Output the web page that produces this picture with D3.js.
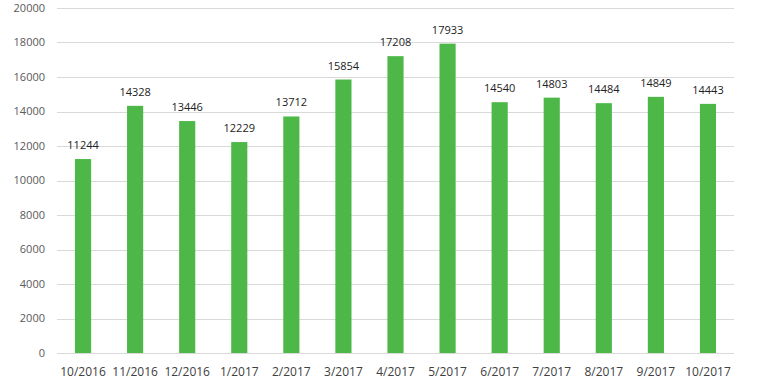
<!DOCTYPE html>
<html>
<head>
<meta charset="utf-8">
<script src="https://cdn.jsdelivr.net/npm/d3@7"></script>
<style>
  body { margin: 0; background: #fff; }
  text { font-family: "Open Sans", "DejaVu Sans", sans-serif; }
</style>
</head>
<body>
<svg id="chart" width="766" height="383"></svg>
<script>
var months = ["10/2016", "11/2016", "12/2016", "1/2017", "2/2017", "3/2017", "4/2017",
              "5/2017", "6/2017", "7/2017", "8/2017", "9/2017", "10/2017"];
var counts = [11244, 14328, 13446, 12229, 13712, 15854, 17208, 17933, 14540, 14803, 14484, 14849, 14443];
var yTicks = [0, 2000, 4000, 6000, 8000, 10000, 12000, 14000, 16000, 18000, 20000];

var svg = d3.select("#chart");
var plotLeft = 57, plotRight = 734, plotTop = 8, plotBottom = 353;

var x = d3.scaleBand()
    .domain(months)
    .range([plotLeft, plotRight])
    .paddingInner(0.69)
    .paddingOuter(0.345);

var y = d3.scaleLinear()
    .domain([0, 20000])
    .range([plotBottom, plotTop]);

// gridlines
svg.append("g")
  .selectAll("line")
  .data(yTicks)
  .join("line")
    .attr("x1", plotLeft)
    .attr("x2", plotRight)
    .attr("y1", function(d) { return Math.round(y(d)) + 0.5; })
    .attr("y2", function(d) { return Math.round(y(d)) + 0.5; })
    .attr("stroke", "#d9d9d9")
    .attr("stroke-width", 1);

// y labels
svg.append("g")
  .selectAll("text")
  .data(yTicks)
  .join("text")
    .attr("x", 45)
    .attr("y", function(d) { return y(d); })
    .attr("dy", "0.35em")
    .attr("text-anchor", "end")
    .attr("font-size", 11)
    .attr("fill", "#595959")
    .text(function(d) { return d; });

// bars
svg.append("g")
  .selectAll("rect")
  .data(counts)
  .join("rect")
    .attr("x", function(d, i) { return x(months[i]); })
    .attr("y", function(d) { return y(d); })
    .attr("width", x.bandwidth())
    .attr("height", function(d) { return y(0) - y(d); })
    .attr("fill", "#4db848");

// value labels
svg.append("g")
  .selectAll("text")
  .data(counts)
  .join("text")
    .attr("x", function(d, i) { return x(months[i]) + x.bandwidth() / 2; })
    .attr("y", function(d) { return y(d) - 10; })
    .attr("text-anchor", "middle")
    .attr("font-size", 11)
    .attr("fill", "#222")
    .text(function(d) { return d; });

// x labels
svg.append("g")
  .selectAll("text")
  .data(months)
  .join("text")
    .attr("x", function(d) { return x(d) + x.bandwidth() / 2; })
    .attr("y", 376)
    .attr("text-anchor", "middle")
    .attr("font-size", 12)
    .attr("fill", "#404040")
    .text(function(d) { return d; });
</script>
</body>
</html>
